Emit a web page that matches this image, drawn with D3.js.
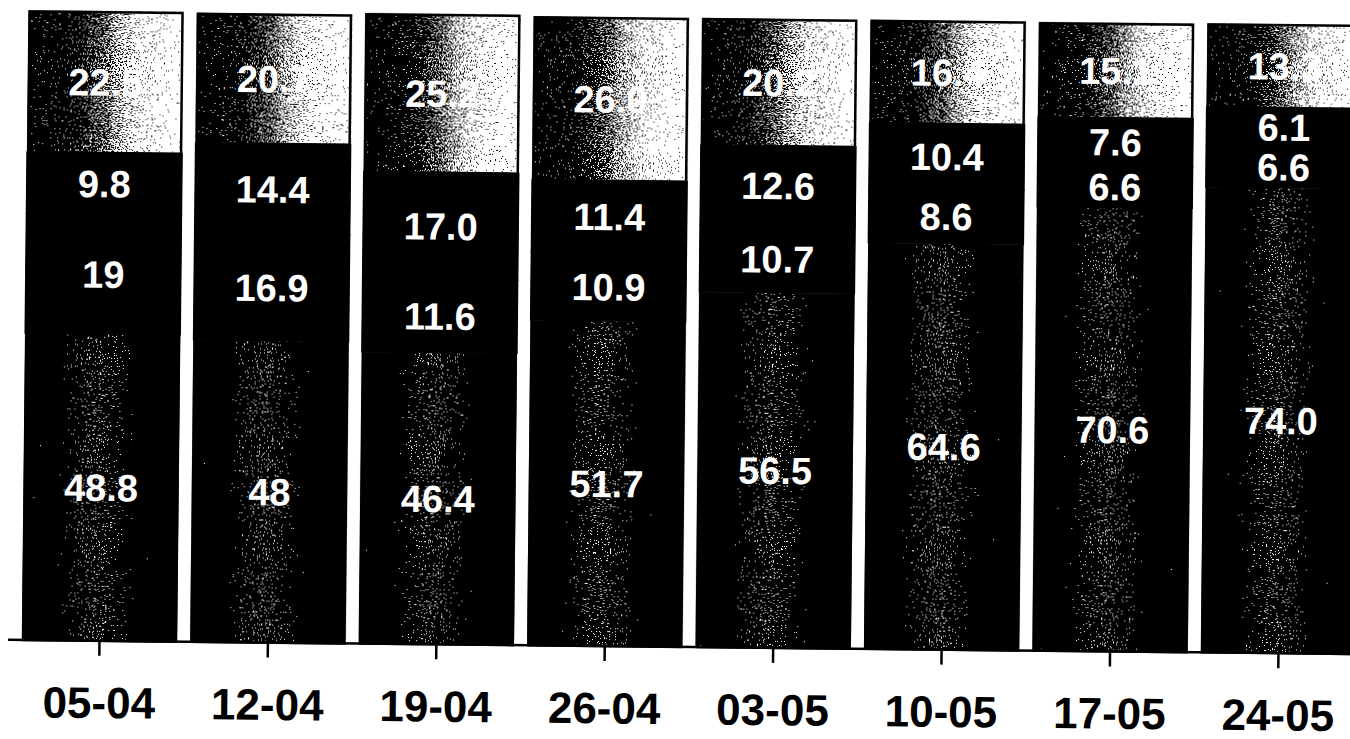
<!DOCTYPE html>
<html>
<head>
<meta charset="utf-8">
<script src="https://cdn.jsdelivr.net/npm/d3@7"></script>
<style>
  body { margin: 0; background: #fff; }
  svg { display: block; }
</style>
</head>
<body>
<svg id="chart" width="1350" height="739"></svg>
<script>
// week labels on the x axis
var weeks = ["05-04", "12-04", "19-04", "26-04", "03-05", "10-05", "17-05", "24-05"];

// values as printed on each segment, bottom to top
var baseLabels   = ["48.8", "48", "46.4", "51.7", "56.5", "64.6", "70.6", "74.0"];
var secondLabels = ["19", "16.9", "11.6", "10.9", "10.7", "8.6", "6.6", "6.6"];
var thirdLabels  = ["9.8", "14.4", "17.0", "11.4", "12.6", "10.4", "7.6", "6.1"];
var topLabels    = ["22.5", "20.7", "25.2", "26.0", "20.2", "16.4", "15.1", "13.3"];

var keys = ["base", "second", "third", "top"];
var labelSets = { base: baseLabels, second: secondLabels, third: thirdLabels, top: topLabels };

var rows = weeks.map(function (w, i) {
    return {
        week: w,
        base: +baseLabels[i],
        second: +secondLabels[i],
        third: +thirdLabels[i],
        top: +topLabels[i]
    };
});

var svg = d3.select("#chart");
var defs = svg.append("defs");

// scanned / dithered look
function ditherFilter(id, amp, seed) {
    var filt = defs.append("filter")
        .attr("id", id)
        .attr("x", 0).attr("y", 0).attr("width", 1).attr("height", 1)
        .attr("color-interpolation-filters", "sRGB");
    filt.append("feTurbulence")
        .attr("type", "fractalNoise")
        .attr("baseFrequency", 0.75)
        .attr("numOctaves", 2)
        .attr("seed", seed)
        .attr("result", "noise");
    filt.append("feColorMatrix")
        .attr("in", "noise")
        .attr("type", "matrix")
        .attr("values", "1 0 0 0 0  1 0 0 0 0  1 0 0 0 0  0 0 0 0 1")
        .attr("result", "gn");
    filt.append("feComposite")
        .attr("in", "SourceGraphic").attr("in2", "gn")
        .attr("operator", "arithmetic")
        .attr("k1", 0).attr("k2", 1).attr("k3", amp).attr("k4", -amp / 2)
        .attr("result", "sum");
    var ct = filt.append("feComponentTransfer").attr("in", "sum").attr("result", "bw");
    ["feFuncR", "feFuncG", "feFuncB"].forEach(function (f) {
        ct.append(f).attr("type", "discrete").attr("tableValues", "0 1");
    });
    filt.append("feComposite")
        .attr("in", "bw").attr("in2", "SourceGraphic")
        .attr("operator", "in");
}
ditherFilter("ditherTop", 2.0, 7);
ditherFilter("ditherBase", 1.3, 11);

// top segment: dark on the left, light on the right
var gTop = defs.append("linearGradient").attr("id", "gradTop")
    .attr("x1", 0).attr("x2", 1).attr("y1", 0).attr("y2", 0);
[[0, "#000"], [0.3, "#222"], [0.5, "#707070"], [0.7, "#d0d0d0"], [1, "#fafafa"]]
    .forEach(function (s) { gTop.append("stop").attr("offset", s[0]).attr("stop-color", s[1]); });

// bottom segment: black with a lighter column in the middle
var gBase = defs.append("linearGradient").attr("id", "gradBase")
    .attr("x1", 0).attr("x2", 1).attr("y1", 0).attr("y2", 0);
[[0, "#000"], [0.2, "#000"], [0.3, "#333"], [0.47, "#4a4a4a"], [0.64, "#333"], [0.75, "#000"], [1, "#000"]]
    .forEach(function (s) { gBase.append("stop").attr("offset", s[0]).attr("stop-color", s[1]); });

var x = d3.scaleBand()
    .domain(weeks)
    .range([22, 1356])
    .paddingInner(0.08)
    .paddingOuter(0);

var y = d3.scaleLinear()
    .domain([0, 100])
    .range([640, 11]);

var stack = d3.stack().keys(keys);
var series = stack(rows);

// the scan is a little tilted
var g = svg.append("g").attr("transform", "rotate(0.6, 22, 640)");

var fills = { base: "url(#gradBase)", second: "#000", third: "#000", top: "url(#gradTop)" };
var filters = { base: "url(#ditherBase)", top: "url(#ditherTop)" };

var layer = g.selectAll("g.layer")
    .data(series)
    .enter().append("g")
    .attr("class", "layer");

layer.selectAll("rect")
    .data(function (s) { return s.map(function (d) { d.key = s.key; return d; }); })
    .enter().append("rect")
    .attr("x", function (d) { return x(d.data.week); })
    .attr("width", x.bandwidth())
    .attr("y", function (d) { return y(d[1]); })
    .attr("height", function (d) { return y(d[0]) - y(d[1]); })
    .attr("fill", function (d) { return fills[d.key]; })
    .attr("stroke", function (d) { return filters[d.key] ? null : "#000"; })
    .attr("stroke-width", 1.5)
    .attr("filter", function (d) { return filters[d.key] || null; });

// outlines
var topSeries = series[series.length - 1];
g.selectAll("rect.outline")
    .data(topSeries)
    .enter().append("rect")
    .attr("class", "outline")
    .attr("x", function (d) { return x(d.data.week) + 1; })
    .attr("width", x.bandwidth() - 2)
    .attr("y", function (d) { return y(d[1]) + 1; })
    .attr("height", function (d) { return y(0) - y(d[1]) - 1; })
    .attr("fill", "none")
    .attr("stroke", "#000")
    .attr("stroke-width", 2.5);

g.selectAll("line.sep")
    .data(topSeries)
    .enter().append("line")
    .attr("class", "sep")
    .attr("x1", function (d) { return x(d.data.week); })
    .attr("x2", function (d) { return x(d.data.week) + x.bandwidth(); })
    .attr("y1", function (d) { return y(d[0]); })
    .attr("y2", function (d) { return y(d[0]); })
    .attr("stroke", "#000")
    .attr("stroke-width", 2);

// value labels
layer.selectAll("text")
    .data(function (s) { return s; })
    .enter().append("text")
    .attr("x", function (d) { return x(d.data.week) + x.bandwidth() / 2; })
    .attr("y", function (d) { return (y(d[0]) + y(d[1])) / 2; })
    .attr("dy", "0.36em")
    .attr("text-anchor", "middle")
    .attr("fill", "#fff")
    .style("font-family", "'Liberation Sans', Arial, sans-serif")
    .style("font-weight", "bold")
    .style("font-size", "38px")
    .text(function (d) {
        var i = weeks.indexOf(d.data.week);
        return labelSets[d.key][i];
    });

// x axis
var axis = g.append("g")
    .attr("transform", "translate(0," + y(0) + ")")
    .call(d3.axisBottom(x).tickSize(15).tickSizeOuter(0).tickPadding(31));

axis.select(".domain").remove();
axis.insert("line", ":first-child")
    .attr("x1", 8).attr("x2", 1360)
    .attr("y1", 0).attr("y2", 0)
    .attr("stroke", "#000")
    .attr("stroke-width", 2.5);

axis.selectAll(".tick line")
    .attr("stroke", "#000")
    .attr("stroke-width", 2.5);

axis.selectAll(".tick text")
    .attr("fill", "#000")
    .style("font-family", "'Liberation Sans', Arial, sans-serif")
    .style("font-weight", "bold")
    .style("font-size", "44px");
</script>
</body>
</html>
